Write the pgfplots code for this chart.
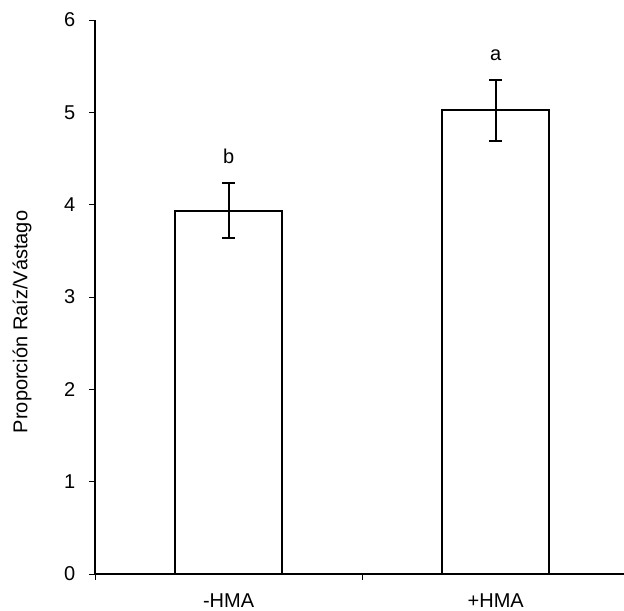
\documentclass[border=0pt]{standalone}
\usepackage{fontspec}
\setmainfont{Liberation Sans}
\usepackage{pgfplots}
\pgfplotsset{compat=1.18}
\begin{document}
\begin{tikzpicture}
\begin{axis}[
  name=ax,
  scale only axis,
  width=264.5pt, height=277pt,
  xmin=0.5, xmax=2.48,
  ymin=0, ymax=6,
  axis x line*=bottom, axis y line*=left,
  axis line style={line width=0.6pt, black},
  ytick={0,1,2,3,4,5,6},
  xtick={1,2}, xticklabels={-HMA,+HMA},
  major x tick style={draw=none},
  minor xtick={0.5,1.5,2.5},
  minor x tick style={black, line width=0.5pt},
  minor tick length=3pt,
  major tick length=2.8pt,
  tick align=outside,
  y tick style={black, line width=0.5pt},
  /pgf/number format/assume math mode=true,
  tick label style={font=\fontsize{10}{12}\selectfont},
  yticklabel style={xshift=-3.5pt},
  xticklabel style={yshift=-3.3pt},
  ylabel={Proporción Raíz/Vástago},
  ylabel style={at={(axis description cs:-0.138,0.455)}, anchor=center, font=\fontsize{10}{12}\selectfont},
  ybar, bar width=0.4,
  clip=false,
]
\addplot[fill=white, draw=black, line width=1pt,
  error bars/.cd, y dir=both, y explicit,
  error bar style={line width=1pt, black},
  error mark options={rotate=90, mark size=3.2pt, line width=1pt, black}]
  coordinates {(1,3.935) +- (0,0.30) (2,5.02) +- (0,0.33)};
\node[font=\fontsize{10}{12}\selectfont] at (axis cs:1,4.52) {b};
\node[font=\fontsize{10}{12}\selectfont] at (axis cs:2,5.62) {a};
\end{axis}
\pgfresetboundingbox
\path[use as bounding box] (ax.south west) ++(-47.5pt,-18pt) rectangle ++(312pt,305pt);
\end{tikzpicture}
\end{document}
